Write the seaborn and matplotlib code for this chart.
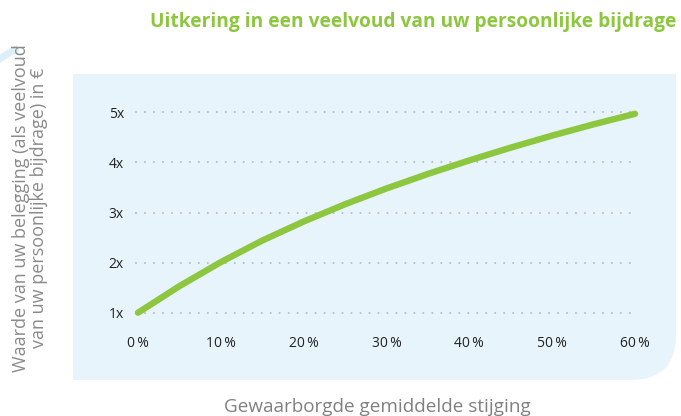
import matplotlib
matplotlib.use("Agg")
import matplotlib.pyplot as plt
import matplotlib.transforms as mtransforms
from matplotlib.path import Path
from matplotlib.patches import PathPatch, Arc
import seaborn as sns
import pandas as pd

# values
stijging = [0, 5, 10, 15, 20, 25, 30, 35, 40, 45, 50, 55, 60]
veelvoud = [1.0, 1.53, 2.01, 2.44, 2.82, 3.165, 3.48, 3.77, 4.04, 4.295, 4.535, 4.76, 4.97]
y_ticks = [1, 2, 3, 4, 5]
y_labels = ["1x", "2x", "3x", "4x", "5x"]
x_ticks = [0, 10, 20, 30, 40, 50, 60]
x_labels = [f"{v}\u2009%" for v in x_ticks]

title = "Uitkering in een veelvoud van uw persoonlijke bijdrage"
ylab = "Waarde van uw belegging (als veelvoud\nvan uw persoonlijke bijdrage) in €"
xlab = "Gewaarborgde gemiddelde stijging"

GREEN = "#8dc63f"
PANEL = "#e7f4fb"

sns.set_style("white")
plt.rcParams["font.family"] = ["Open Sans", "DejaVu Sans"]

W, H = 681, 416
fig = plt.figure(figsize=(W / 100, H / 100), dpi=100)
fig.patch.set_facecolor("white")

# pixel coords (origin top-left) -> figure
px = mtransforms.Affine2D().scale(1, -1).translate(0, H).scale(1 / W, 1 / H) + fig.transFigure

# background panel, rounded bottom-right corner
verts = [(73, 74), (676, 74), (676, 335), (676, 380), (631, 380), (73, 380), (73, 74)]
codes = [Path.MOVETO, Path.LINETO, Path.LINETO, Path.CURVE3, Path.CURVE3, Path.LINETO, Path.CLOSEPOLY]
fig.patches.append(PathPatch(Path(verts, codes), transform=px, facecolor=PANEL,
                             edgecolor="none", zorder=-5))

# decorative arc top-left
fig.patches.append(Arc((75, 165), 260, 260, theta1=-128, theta2=-116, transform=px,
                       color="#ddeff9", lw=5, zorder=-5))

# axes placed so that 0..60 spans the drawn curve
left, right, top, bottom = 128, 660, 90, 330
ax = fig.add_axes([left / W, (H - bottom) / H, (right - left) / W, (bottom - top) / H])
ax.set_facecolor("none")

xs = 497 / 60
x0 = -(138 - left) / xs
ax.set_xlim(x0, x0 + (right - left) / xs)
ys = 50.1
ax.set_ylim(1 - (bottom - 312.7) / ys, 5 + (112.3 - top) / ys)

for y in y_ticks:
    ax.hlines(y, -0.2, 60, colors="#bdbdbd", lw=1.5, linestyles=(0, (0.01, 4.3)),
              capstyle="round", zorder=1)

df = pd.DataFrame({"stijging": stijging, "veelvoud": veelvoud})
sns.lineplot(data=df, x="stijging", y="veelvoud", ax=ax, color=GREEN, lw=4.6,
             solid_capstyle="round", solid_joinstyle="round", zorder=3)

ax.set_xticks(x_ticks)
ax.set_xticklabels(x_labels)
ax.set_yticks(y_ticks)
ax.set_yticklabels(y_labels)
ax.tick_params(axis="both", length=0, labelsize=10, labelcolor="#222222")
ax.tick_params(axis="y", pad=3)
ax.tick_params(axis="x", pad=4)
ax.set_xlabel("")
ax.set_ylabel("")
sns.despine(ax=ax, left=True, bottom=True)

fig.text(676 / W, 1 - 22 / H, title, ha="right", va="center",
         color=GREEN, fontsize=13.8, fontweight="bold")
fig.text(30 / W, 1 - 208 / H, ylab, rotation=90, ha="center", va="center",
         multialignment="center", color="#8a8a8a", fontsize=13, linespacing=1.0)
fig.text(377 / W, 1 - 407 / H, xlab, ha="center", va="center", color="#808080", fontsize=13.6)

fig.savefig("out.png", dpi=100)
